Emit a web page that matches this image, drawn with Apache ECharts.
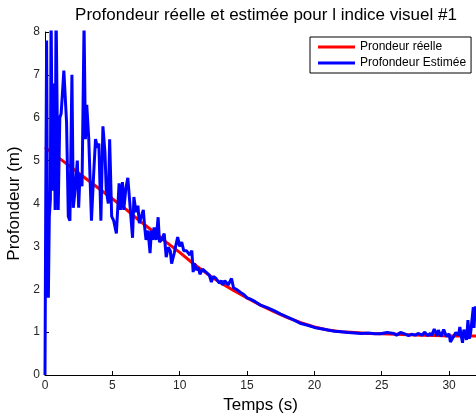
<!DOCTYPE html>
<html>
<head>
<meta charset="utf-8">
<script src="https://cdn.jsdelivr.net/npm/echarts@6/dist/echarts.min.js"></script>
<style>
	html, body { margin: 0; padding: 0; background: #fff; }
	#main { width: 476px; height: 417px; }
</style>
</head>
<body>
<div id="main"></div>
<script>
// profondeur reelle (courbe rouge)
var redT = [0, 1, 2, 3, 4, 5, 6, 7, 8, 9, 10, 11, 12, 13, 14, 15, 16, 17, 18, 19, 20, 21, 22, 23, 24, 25, 26, 27, 28, 29, 30, 31, 32];
var redV = [5.31, 5.07, 4.83, 4.59, 4.35, 4.11, 3.87, 3.6, 3.36, 3.1, 2.86, 2.6, 2.37, 2.16, 1.97, 1.8, 1.63, 1.48, 1.34, 1.22, 1.12, 1.05, 1.01, 0.99, 0.97, 0.96, 0.95, 0.94, 0.93, 0.92, 0.91, 0.91, 0.91];

// profondeur estimee (courbe bleue)
var blueT = [0, 0.05, 0.12, 0.17, 0.25, 0.32, 0.4, 0.45, 0.55, 0.6, 0.67, 0.75, 0.82, 0.9, 0.98, 1.1, 1.2, 1.4, 1.6, 1.73,
	1.85, 2.0, 2.1, 2.2, 2.4, 2.5, 2.6, 2.75, 2.9, 3.0, 3.1, 3.25, 3.45, 3.6, 3.75, 3.9, 4.0, 4.15, 4.3, 4.45,
	4.55, 4.7, 4.8, 4.95, 5.1, 5.3, 5.5, 5.6, 5.75, 5.85, 6.0, 6.15, 6.3, 6.5, 6.6, 6.75, 6.9, 7.0, 7.3, 7.4,
	7.5, 7.65, 7.8, 7.9, 8.0, 8.1, 8.25, 8.4, 8.5, 8.65, 8.85, 9.0, 9.15, 9.3, 9.4, 9.6, 9.7, 9.85, 10.0, 10.15,
	10.3, 10.5, 10.75, 10.9, 11.0, 11.1, 11.25, 11.4, 11.5, 11.7, 11.95, 12.2, 12.35, 12.5, 12.7, 12.95, 13.1, 13.2, 13.35, 13.6,
	13.85, 14.0, 14.2, 14.5, 14.75, 15.0, 15.25, 15.5, 15.75, 16, 16.5, 17, 17.5, 18, 18.5, 19, 19.5, 20, 20.5, 21,
	21.5, 22, 22.5, 23, 23.5, 24, 24.5, 24.9, 25.4, 25.9, 26.1, 26.4, 26.7, 27.0, 27.2, 27.5, 27.7, 28.0, 28.2, 28.4,
	28.6, 28.7, 28.9, 29.1, 29.2, 29.4, 29.6, 29.8, 30.0, 30.1, 30.3, 30.5, 30.7, 30.8, 30.9, 31.0, 31.1, 31.3, 31.4, 31.5,
	31.6, 31.8, 31.85, 31.95, 32];
var blueV = [0, 3.7, 7.8, 4.5, 1.8, 3.7, 4.1, 8.6, 4.3, 6.5, 6.8, 3.85, 8.6, 8.6, 3.85, 6.0, 6.1, 7.1, 5.9, 3.7,
	3.6, 7.0, 3.9, 4.2, 5.0, 3.9, 4.7, 4.4, 8.2, 5.5, 6.3, 5.5, 3.6, 4.6, 5.5, 5.3, 5.4, 3.6, 5.8, 5.2,
	4.3, 4.0, 5.5, 3.7, 3.6, 3.3, 4.47, 3.85, 4.5, 3.85, 4.35, 4.6, 4.0, 3.2, 4.15, 3.8, 3.95, 3.54, 3.85, 3.45,
	3.15, 3.37, 2.84, 3.37, 3.15, 3.44, 3.15, 3.68, 3.1, 3.15, 3.3, 2.75, 2.98, 2.9, 2.6, 2.85, 3.0, 3.22, 3.0, 3.1,
	2.9, 2.9, 2.8, 2.9, 2.4, 2.6, 2.45, 2.5, 2.35, 2.47, 2.4, 2.33, 2.17, 2.3, 2.25, 2.14, 2.2, 2.1, 2.2, 2.1,
	2.25, 2.03, 2.0, 1.93, 1.88, 1.8, 1.77, 1.73, 1.68, 1.63, 1.57, 1.5, 1.42, 1.35, 1.28, 1.2, 1.16, 1.11, 1.08, 1.05,
	1.02, 1.01, 0.99, 0.98, 0.97, 0.98, 0.96, 0.96, 0.99, 0.97, 0.93, 0.99, 0.96, 0.92, 0.95, 0.93, 0.97, 0.93, 1.0, 0.92,
	0.97, 0.92, 1.07, 0.91, 1.05, 0.9, 1.06, 0.9, 0.96, 0.77, 0.88, 0.99, 0.92, 1.12, 0.92, 0.75, 1.06, 0.82, 1.28, 0.85,
	0.98, 1.58, 1.1, 1.6, 1.4];

function pairs(xs, ys) {
	var out = [];
	for (var i = 0; i < xs.length; i++) {
		out.push([xs[i], ys[i]]);
	}
	return out;
}

var font = 'Liberation Sans, Arial, Helvetica, sans-serif';
var myChart = echarts.init(document.getElementById('main'));
myChart.setOption({
	backgroundColor: '#fff',
	animation: false,
	title: {
		text: 'Profondeur réelle et estimée pour l indice visuel #1',
		left: 261,
		top: 2,
		textAlign: 'center',
		textStyle: { fontFamily: font, fontSize: 17, fontWeight: 'normal', color: '#000' }
	},
	legend: {
		orient: 'vertical',
		left: 310,
		top: 37,
		padding: [3, 5, 3, 8],
		itemGap: 2,
		itemWidth: 37,
		itemHeight: 3,
		icon: 'rect',
		borderColor: '#000',
		borderWidth: 1,
		backgroundColor: '#fff',
		textStyle: { fontFamily: font, fontSize: 12, lineHeight: 14, color: '#000' },
		data: ['Prondeur réelle', 'Profondeur Estimée']
	},
	grid: { left: 45, top: 32, right: 0, bottom: 42, outerBoundsMode: 'none', containLabel: false },
	xAxis: {
		type: 'value',
		min: 0,
		max: 32,
		interval: 5,
		name: 'Temps (s)',
		nameLocation: 'middle',
		nameGap: 16,
		nameTextStyle: { fontFamily: font, fontSize: 17, color: '#000' },
		axisLine: { lineStyle: { color: '#000', width: 1 } },
		axisTick: { inside: true, length: 4, lineStyle: { color: '#000' } },
		axisLabel: { fontFamily: font, fontSize: 12, color: '#262626', margin: 5, showMaxLabel: false },
		splitLine: { show: false }
	},
	yAxis: {
		type: 'value',
		min: 0,
		max: 8,
		interval: 1,
		name: 'Profondeur (m)',
		nameLocation: 'middle',
		nameGap: 14,
		nameTextStyle: { fontFamily: font, fontSize: 17, color: '#000' },
		axisLine: { show: true, lineStyle: { color: '#000', width: 1 } },
		axisTick: { show: true, inside: true, length: 4, lineStyle: { color: '#000' } },
		axisLabel: { fontFamily: font, fontSize: 12, color: '#262626', margin: 5 },
		splitLine: { show: false }
	},
	series: [{
		name: 'Prondeur réelle',
		type: 'line',
		data: pairs(redT, redV),
		showSymbol: false,
		symbol: 'none',
		color: '#ff0000',
		lineStyle: { color: '#ff0000', width: 3 }
	}, {
		name: 'Profondeur Estimée',
		type: 'line',
		data: pairs(blueT, blueV),
		showSymbol: false,
		symbol: 'none',
		color: '#0000ff',
		lineStyle: { color: '#0000ff', width: 3 }
	}]
});
</script>
</body>
</html>
